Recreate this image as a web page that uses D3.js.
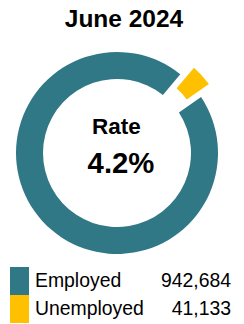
<!DOCTYPE html>
<html><head><meta charset="utf-8">
<script src="https://cdn.jsdelivr.net/npm/d3@7"></script>
<style>html,body{margin:0;padding:0;background:#fff;}</style>
</head><body>
<script>
const title = "June 2024";
const categories = ["Employed", "Unemployed"];
const values = [942684, 41133];
const colors = ["#317887", "#FFC000"];
const centerLabel = "Rate";
const centerValue = "4.2%";

const W = 244, H = 324;
const svg = d3.select("body").append("svg").attr("width", W).attr("height", H)
  .style("font-family", "'Liberation Sans', Arial, sans-serif");

svg.append("text").attr("x", 124).attr("y", 27).attr("text-anchor", "middle")
  .attr("font-size", 24.5).attr("font-weight", "bold").attr("fill", "#000").text(title);

const cx = 117, cy = 153, rOut = 101, rIn = 74, explode = 14;
const startDeg = 55.1;
const pie = d3.pie().sort(null).startAngle(startDeg * Math.PI / 180)
  .endAngle(startDeg * Math.PI / 180 + 2 * Math.PI);
const arcs = pie(values);
const arc = d3.arc().innerRadius(rIn).outerRadius(rOut).padAngle(0.035);
const g = svg.append("g").attr("transform", `translate(${cx},${cy})`);
g.selectAll("path").data(arcs).join("path")
  .attr("d", arc)
  .attr("fill", (d, i) => colors[i])
  .attr("transform", (d, i) => {
    if (i !== 1) return null;
    const a = (d.startAngle + d.endAngle) / 2;
    return `translate(${explode * Math.sin(a)},${-explode * Math.cos(a)})`;
  });

g.append("text").attr("x", -0.5).attr("y", -19).attr("text-anchor", "middle")
  .attr("font-size", 22.5).attr("font-weight", "bold").text(centerLabel);
g.append("text").attr("x", 4).attr("y", 20).attr("text-anchor", "middle")
  .attr("font-size", 29.3).attr("font-weight", "bold").text(centerValue);

const fmt = d3.format(",");
const leg = svg.append("g");
categories.forEach((c, i) => {
  const y0 = 267 + i * 28;
  leg.append("rect").attr("x", 10).attr("y", y0).attr("width", 19).attr("height", 28).attr("fill", colors[i]);
  leg.append("text").attr("x", 35).attr("y", y0 + 20).attr("font-size", 19.4).attr("fill", "#000").text(c);
  leg.append("text").attr("x", 231).attr("y", y0 + 20).attr("text-anchor", "end").attr("font-size", 19.4).attr("fill", "#000").text(fmt(values[i]));
});
</script>
</body></html>
